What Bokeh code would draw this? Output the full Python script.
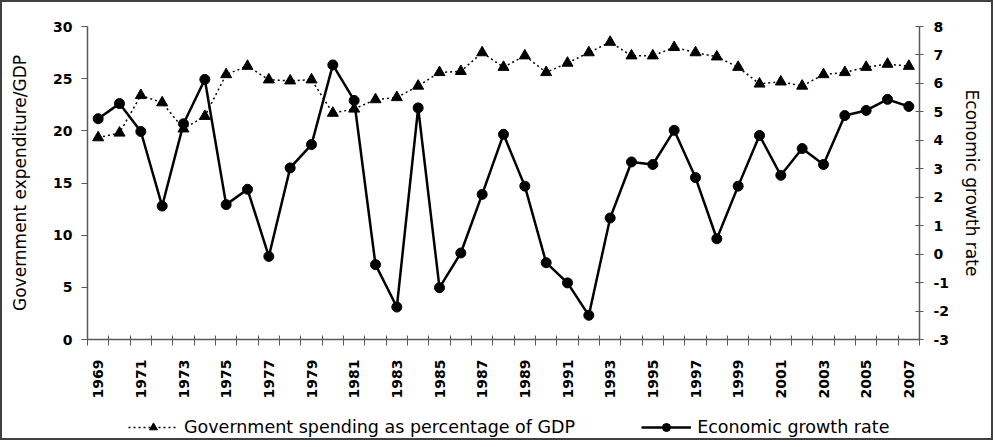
from bokeh.plotting import figure
from bokeh.layouts import column
from bokeh.models import Range1d, LinearAxis, FixedTicker, Legend, LegendItem
from bokeh.embed import file_html
from bokeh.resources import INLINE

years = list(range(1969, 2008))
gov_spending = [19.35, 19.8, 23.4, 22.7, 20.2, 21.4, 25.4, 26.2, 24.9, 24.8,
                24.9, 21.7, 22.1, 23.0, 23.2, 24.3, 25.6, 25.7, 27.5, 26.1,
                27.2, 25.6, 26.5, 27.5, 28.5, 27.2, 27.2, 28.0, 27.5, 27.1,
                26.1, 24.5, 24.7, 24.3, 25.4, 25.6, 26.1, 26.4, 26.2]
growth_rate = [4.76, 5.29, 4.31, 1.69, 4.58, 6.14, 1.74, 2.28, -0.08, 3.03,
               3.85, 6.65, 5.40, -0.37, -1.86, 5.14, -1.18, 0.04, 2.10, 4.21,
               2.39, -0.30, -1.01, -2.15, 1.27, 3.24, 3.15, 4.35, 2.69, 0.54,
               2.39, 4.17, 2.77, 3.71, 3.15, 4.87, 5.05, 5.44, 5.19]
label_years = [y for y in years if y % 2 == 1]
left_ticks = [0, 5, 10, 15, 20, 25, 30]
right_ticks = [-3, -2, -1, 0, 1, 2, 3, 4, 5, 6, 7, 8]
series_names = ["Government spending as percentage of GDP", "Economic growth rate"]

FONT = "DejaVu Sans"
AXIS_COLOR = "#595959"
W = 989
MAIN_H = 403
LEG_H = 33

p = figure(width=W, height=MAIN_H, output_backend="svg", toolbar_location=None,
           x_range=Range1d(years[0] - 0.5, years[-1] + 0.5),
           y_range=Range1d(0, 30),
           min_border_left=85, min_border_right=72, min_border_top=24,
           min_border_bottom=66, x_axis_type=None, y_axis_type=None)
p.outline_line_color = None
p.xgrid.visible = False
p.ygrid.visible = False
p.extra_y_ranges = {"growth": Range1d(-3, 8)}

# x axis
xa = LinearAxis(ticker=FixedTicker(ticks=label_years,
                                   minor_ticks=[y - 0.5 for y in years] + [years[-1] + 0.5]))
xa.major_tick_in = 0
xa.major_tick_out = 0
xa.minor_tick_in = 4
xa.minor_tick_out = 6
xa.minor_tick_line_color = AXIS_COLOR
xa.axis_line_color = AXIS_COLOR
xa.axis_line_width = 1.5
xa.major_label_orientation = 3.14159265 / 2
xa.major_label_standoff = 14
xa.major_label_text_font = FONT
xa.major_label_text_font_style = "bold"
xa.major_label_text_font_size = "14px"
xa.major_label_text_color = "black"
p.add_layout(xa, "below")

# left axis
ya = LinearAxis(ticker=FixedTicker(ticks=left_ticks), axis_label="Government expenditure/GDP")
ya.major_tick_in = 0
ya.major_tick_out = 6
ya.minor_tick_line_color = None
ya.major_tick_line_color = AXIS_COLOR
ya.axis_line_color = AXIS_COLOR
ya.axis_line_width = 1.5
ya.major_label_standoff = 9
ya.major_label_text_font = FONT
ya.major_label_text_font_style = "bold"
ya.major_label_text_font_size = "14px"
ya.major_label_text_color = "black"
ya.axis_label_text_font = FONT
ya.axis_label_text_font_style = "normal"
ya.axis_label_text_font_size = "17px"
ya.axis_label_text_color = "black"
ya.axis_label_standoff = 20
p.add_layout(ya, "left")

# right axis
ra = LinearAxis(y_range_name="growth", ticker=FixedTicker(ticks=right_ticks),
                axis_label="Economic growth rate")
ra.major_label_overrides = {t: str(t) for t in right_ticks}
ra.major_tick_in = 4
ra.major_tick_out = 4
ra.minor_tick_line_color = None
ra.major_tick_line_color = AXIS_COLOR
ra.axis_line_color = AXIS_COLOR
ra.axis_line_width = 1.5
ra.major_label_standoff = 10
ra.major_label_text_font = FONT
ra.major_label_text_font_style = "bold"
ra.major_label_text_font_size = "14px"
ra.major_label_text_color = "black"
ra.axis_label_text_font = FONT
ra.axis_label_text_font_style = "normal"
ra.axis_label_text_font_size = "17px"
ra.axis_label_text_color = "black"
ra.axis_label_standoff = 10
p.add_layout(ra, "right")

# series
GOV_LINE = dict(line_color="black", line_width=1.5, line_dash="2 3")
GOV_MARK = dict(marker="triangle", size=11, fill_color="black", line_color="black")
GR_LINE = dict(line_color="black", line_width=2.5)
GR_MARK = dict(marker="circle", size=10, fill_color="black", line_color="black")

p.line(years, gov_spending, **GOV_LINE)
p.scatter(years, gov_spending, **GOV_MARK)
p.line(years, growth_rate, y_range_name="growth", **GR_LINE)
p.scatter(years, growth_rate, y_range_name="growth", **GR_MARK)

# legend strip: a separate figure (same series, ranges chosen so only the legend shows)
lf = figure(width=W, height=LEG_H, output_backend="svg", toolbar_location=None,
            x_range=Range1d(0, 1), y_range=Range1d(0, 1),
            min_border=0, x_axis_type=None, y_axis_type=None)
lf.outline_line_color = None
lf.xgrid.visible = False
lf.ygrid.visible = False
lgl = lf.line(years, gov_spending, **GOV_LINE)
lgs = lf.scatter(years, gov_spending, **GOV_MARK)
lel = lf.line(years, growth_rate, **GR_LINE)
les = lf.scatter(years, growth_rate, **GR_MARK)

legend = Legend(items=[
    LegendItem(label=series_names[0], renderers=[lgl, lgs]),
    LegendItem(label=series_names[1], renderers=[lel, les]),
], orientation="horizontal", location=(41, 1))
legend.border_line_color = None
legend.background_fill_alpha = 0
legend.padding = 0
legend.margin = 0
legend.spacing = 66
legend.glyph_width = 50
legend.glyph_height = 20
legend.label_height = 20
legend.label_standoff = 6
legend.label_text_font = FONT
legend.label_text_font_size = "17.5px"
legend.label_text_color = "black"
lf.add_layout(legend)

layout = column(p, lf, spacing=0, styles={"border": "2px solid #404040"})

open("out.html", "w").write(file_html(layout, INLINE))
